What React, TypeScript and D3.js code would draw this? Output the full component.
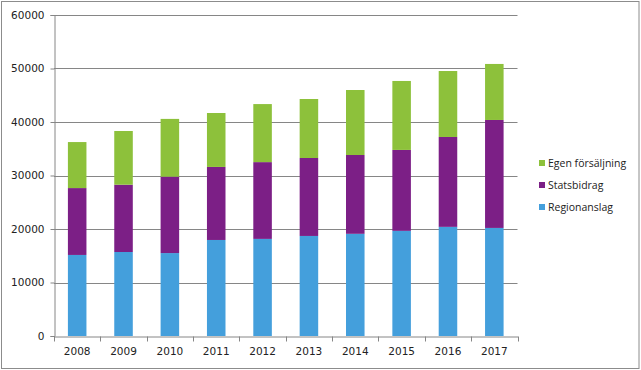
import React, { useEffect, useRef } from 'react';
import { axisBottom, axisLeft, scaleBand, scaleLinear, select, stack } from 'd3';

const years = ['2008', '2009', '2010', '2011', '2012', '2013', '2014', '2015', '2016', '2017'];
const regionanslag = [15150, 15700, 15500, 17950, 18150, 18700, 19100, 19650, 20400, 20200];
const statsbidrag = [12500, 12580, 14280, 13650, 14350, 14570, 14730, 15130, 16800, 20180];
const egenForsaljning = [8600, 10040, 10800, 10080, 10850, 11030, 12150, 12890, 12330, 10470];
const seriesNames = ['Regionanslag', 'Statsbidrag', 'Egen försäljning'];
const seriesColors = ['#449fdc', '#7c1f86', '#8dc13b'];
const yTicks = [0, 10000, 20000, 30000, 40000, 50000, 60000];

const W = 641;
const H = 370;
const margin = { left: 54, right: 123.5, top: 15, bottom: 34 };

const App: React.FC = () => {
  const svgRef = useRef<SVGSVGElement>(null);

  useEffect(() => {
    const svg = select(svgRef.current);
    svg.selectAll('*').remove();

    const rows = years.map((y, i) => ({
      year: y,
      Regionanslag: regionanslag[i],
      Statsbidrag: statsbidrag[i],
      'Egen försäljning': egenForsaljning[i],
    }));

    const x = scaleBand<string>()
      .domain(years)
      .range([margin.left, W - margin.right])
      .paddingInner(0.6)
      .paddingOuter(0.3);
    const y = scaleLinear()
      .domain([0, 60000])
      .range([H - margin.bottom, margin.top]);

    // outer frame
    svg
      .append('rect')
      .attr('x', 1.5)
      .attr('y', 1.5)
      .attr('width', W - 3.5)
      .attr('height', H - 3)
      .attr('fill', '#fff')
      .attr('stroke', '#8c8c8c');

    // gridlines
    svg
      .append('g')
      .selectAll('line')
      .data(yTicks.slice(1))
      .join('line')
      .attr('x1', margin.left)
      .attr('x2', W - margin.right)
      .attr('y1', (d) => Math.round(y(d)) + 0.5)
      .attr('y2', (d) => Math.round(y(d)) + 0.5)
      .attr('stroke', '#868686');

    // bars
    const stacked = stack<any>().keys(seriesNames)(rows);
    svg
      .append('g')
      .selectAll('g')
      .data(stacked)
      .join('g')
      .attr('fill', (_, i) => seriesColors[i])
      .selectAll('rect')
      .data((d) => d)
      .join('rect')
      .attr('x', (d) => x(d.data.year) as number)
      .attr('width', x.bandwidth())
      .attr('y', (d) => y(d[1]))
      .attr('height', (d) => y(d[0]) - y(d[1]));

    // y axis
    const yAxis = svg
      .append('g')
      .attr('transform', `translate(${margin.left + 0.5},0)`)
      .call(axisLeft(y).tickValues(yTicks).tickSize(4).tickPadding(6).tickFormat((d) => String(d)));
    yAxis.select('.domain').attr('stroke', '#868686');
    yAxis.selectAll('.tick line').attr('stroke', '#868686');

    // x axis with ticks between categories
    const xAxis = svg
      .append('g')
      .attr('transform', `translate(0,${H - margin.bottom + 0.5})`)
      .call(axisBottom(x).tickSize(0).tickPadding(11));
    xAxis.select('.domain').attr('stroke', '#868686');
    const step = x.step();
    const bounds = [margin.left, ...years.map((yr) => (x(yr) as number) + x.bandwidth() / 2 + step / 2)];
    xAxis
      .selectAll('.sep')
      .data(bounds)
      .join('line')
      .attr('class', 'sep')
      .attr('x1', (d) => Math.round(d) + 0.5)
      .attr('x2', (d) => Math.round(d) + 0.5)
      .attr('y1', 0)
      .attr('y2', 5)
      .attr('stroke', '#868686');

    svg
      .selectAll('.tick text')
      .attr('font-family', 'DejaVu Sans, Verdana, sans-serif')
      .attr('font-size', 10.5)
      .attr('fill', '#222');

    // legend
    const legend = svg
      .append('g')
      .selectAll('g')
      .data(seriesNames.slice().reverse())
      .join('g')
      .attr('transform', (_, i) => `translate(539,${163 + i * 22})`);
    legend
      .append('rect')
      .attr('x', 0)
      .attr('y', -3)
      .attr('width', 6)
      .attr('height', 6)
      .attr('fill', (d) => seriesColors[seriesNames.indexOf(d)]);
    legend
      .append('text')
      .attr('x', 9)
      .attr('dy', '0.35em')
      .attr('font-family', 'Open Sans, sans-serif')
      .attr('font-size', 10.5)
      .attr('fill', '#222')
      .text((d) => d);
  }, []);

  return (
    <div style={{ position: 'absolute', left: 0, top: 0 }}>
      <svg ref={svgRef} width={W} height={H} style={{ display: 'block' }} />
    </div>
  );
};

export default App;
